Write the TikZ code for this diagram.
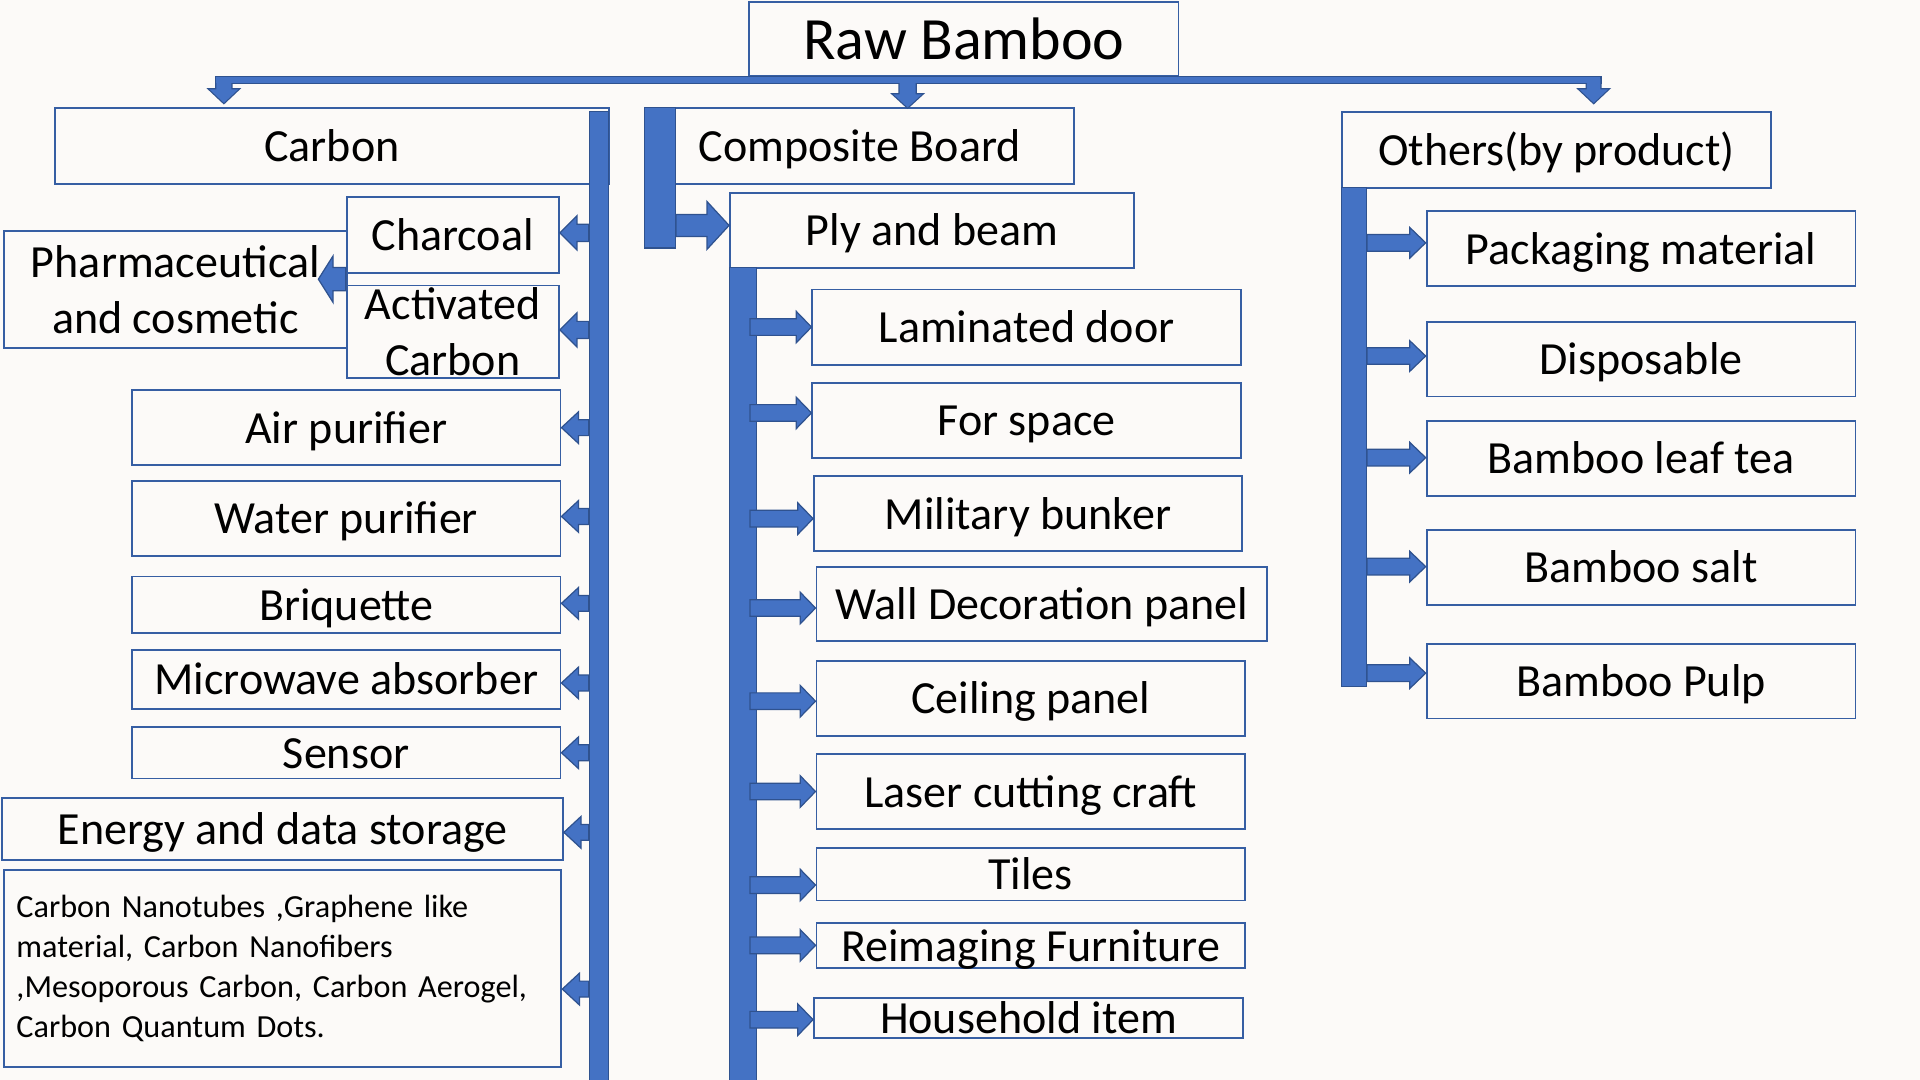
\documentclass[tikz,border=0pt]{standalone}
\usepackage{fontspec}
\setmainfont{Carlito}
\newfontfamily\listfam[WordSpace=0.7]{Carlito}
\usetikzlibrary{calc}
\definecolor{ablue}{HTML}{4472C4}
\definecolor{aline}{HTML}{2F528F}
\definecolor{bline}{HTML}{365EA3}
\definecolor{bgc}{HTML}{FCFAF8}
\newcommand\mainfnt{\fontsize{37.6}{46}\selectfont}
\newcommand\rawfnt{\fontsize{49}{58}\selectfont}
\newcommand\listfnt{\listfam\fontsize{26.3}{32.7}\selectfont}
\tikzset{
 box/.style={draw=bline, line width=1.5pt, inner sep=0pt, font=\mainfnt, text height=28.6pt, text depth=3pt},
 multiline/.style={align=center, text height=, text depth=},
 barst/.style={fill=ablue, draw=aline, line width=1pt, inner sep=0pt, anchor=north west},
 arrowst/.style={fill=ablue, draw=aline, line width=1pt},
 busedge/.style={fill=ablue, draw=aline, line width=2pt},
 busfill/.style={fill=ablue},
}
% box: [opts]{name}{x1}{y1}{x2}{y2}{text}
\newcommand\mkbox[7][]{\node[box,anchor=north west,minimum width={#5-#3},minimum height={#6-#4},#1] (#2) at (#3,#4) {#7};}
% arrows: [style]{start}{end}{shaft half}{head half}{head length}
\newcommand\rarr[6][arrowst]{\path[#1] let \p1=#2, \p2=#3 in
 (\x1,{\y2+#4pt}) -- ({\x2-#6pt},{\y2+#4pt}) -- ({\x2-#6pt},{\y2+#5pt}) -- (\x2,\y2) -- ({\x2-#6pt},{\y2-#5pt}) -- ({\x2-#6pt},{\y2-#4pt}) -- (\x1,{\y2-#4pt}) -- cycle;}
\newcommand\larr[6][arrowst]{\path[#1] let \p1=#2, \p2=#3 in
 (\x1,{\y2+#4pt}) -- ({\x2+#6pt},{\y2+#4pt}) -- ({\x2+#6pt},{\y2+#5pt}) -- (\x2,\y2) -- ({\x2+#6pt},{\y2-#5pt}) -- ({\x2+#6pt},{\y2-#4pt}) -- (\x1,{\y2-#4pt}) -- cycle;}
\newcommand\darr[6][arrowst]{\path[#1] let \p1=#2, \p2=#3 in
 ({\x2-#4pt},\y1) -- ({\x2-#4pt},{\y2+#6pt}) -- ({\x2-#5pt},{\y2+#6pt}) -- (\x2,\y2) -- ({\x2+#5pt},{\y2+#6pt}) -- ({\x2+#4pt},{\y2+#6pt}) -- ({\x2+#4pt},\y1) -- cycle;}
\begin{document}
\begin{tikzpicture}[x=1pt,y=-1pt]
\fill[bgc] (0,0) rectangle (1568,882);
\useasboundingbox (0,0) rectangle (1568,882);

% ---------- boxes ----------
\mkbox[font=\rawfnt, text height=37.2pt, text depth=3.9pt]{raw}{611}{0.8}{961.7}{61.3}{Raw Bamboo}
% carbon column
\mkbox{carbon}{44}{87.7}{496.7}{149.3}{Carbon}
\mkbox{charcoal}{282.3}{160}{455.7}{222}{Charcoal}
\mkbox[multiline]{activated}{282.3}{232.4}{455.7}{308}{Activated\\Carbon}
\mkbox[multiline]{pharm}{2.7}{188}{282.3}{283.4}{Pharmaceutical\\and cosmetic}
\mkbox{air}{107}{318}{457}{379}{Air purifier}
\mkbox{water}{107}{392}{457}{453}{Water purifier}
\mkbox{briq}{107}{470}{457}{516}{Briquette}
\mkbox{micro}{107}{530}{457}{578}{Microwave absorber}
\mkbox{sensor}{107}{593}{457}{635}{Sensor}
\mkbox{energy}{1}{651}{459}{701.6}{Energy and data storage}
\mkbox[text height=, text depth=, font=\listfnt, text width=435pt, align=left, inner xsep=10pt]{list}{2.7}{709.8}{457.7}{870.8}{Carbon Nanotubes ,Graphene like\\material, Carbon Nanofibers\\,Mesoporous Carbon, Carbon Aerogel,\\Carbon Quantum Dots.}
% composite column
\mkbox{composite}{527}{87.7}{876}{149.3}{Composite Board}
\mkbox{ply}{595.4}{156.7}{925.4}{218}{Ply and beam}
\mkbox{lam}{662.7}{235.7}{1012.7}{297}{Laminated door}
\mkbox{space}{662.7}{312}{1012.7}{373}{For space}
\mkbox{mil}{664}{388}{1013.7}{449}{Military bunker}
\mkbox{wall}{666}{462}{1034}{523}{Wall Decoration panel}
\mkbox{ceil}{666}{539}{1016}{600}{Ceiling panel}
\mkbox{laser}{666}{614.7}{1016}{676.6}{Laser cutting craft}
\mkbox{tiles}{666}{691.5}{1016}{734.6}{Tiles}
\mkbox{reimg}{666}{753}{1016}{789.6}{Reimaging Furniture}
\mkbox{house}{664}{814}{1014.3}{847}{Household item}
% others column
\mkbox{others}{1095.3}{91}{1445.3}{152.6}{Others(by product)}
\mkbox{pack}{1164.3}{171.7}{1514.6}{233}{Packaging material}
\mkbox{disp}{1164.3}{262}{1514.6}{323}{Disposable}
\mkbox{tea}{1164.3}{343}{1514.6}{404}{Bamboo leaf tea}
\mkbox{salt}{1164.3}{432}{1514.6}{493}{Bamboo salt}
\mkbox{pulp}{1164.3}{525}{1514.6}{586}{Bamboo Pulp}

% ---------- bars ----------
\node[barst, minimum width=16, minimum height=800] (cbar) at (480.7,90.7) {};
\node[barst, minimum width=25, minimum height=115] (mbarA) at (526,87) {};
\node[barst, minimum width=21.6, minimum height=670] (mbarB) at (595.4,218) {};
\node[barst, minimum width=20, minimum height=407.4] (rbar) at (1095.3,152.6) {};

% ---------- top connector ----------
\coordinate (busL) at (182.85,64.5);
\coordinate (busM) at (741.2,64.5);
\coordinate (busR) at (1301.5,64.5);
\coordinate (tipL) at ($(busL |- carbon.north)+(0,-3.7)$);
\coordinate (tipR) at ($(busR |- others.north)+(0,-7)$);
\path[busedge] ($(raw.south -| busL)+(-6.15,0)$) rectangle ($(busR)+(5.5,3.1)$);
\darr[busedge]{(busL)}{(tipL)}{6.15}{11.7}{11}
\darr[busedge]{(busR)}{(tipR)}{5.5}{11.7}{11}
\darr[busedge]{(busM)}{(busM |- composite.north)}{6.5}{11.7}{10.7}
\path[busfill] ($(raw.south -| busL)+(-6.15,0)$) rectangle ($(busR)+(5.5,3.1)$);
\darr[busfill]{(busL)}{(tipL)}{6.15}{11.7}{11}
\darr[busfill]{(busR)}{(tipR)}{5.5}{11.7}{11}
\darr[busfill]{(busM)}{(busM |- composite.north)}{6.5}{11.7}{10.7}

% ---------- carbon column arrows ----------
\larr{(cbar.west)}{([yshift=1.6pt]charcoal.east)}{7}{14}{14}
\larr{(cbar.west)}{([yshift=1.5pt]activated.east)}{7}{14}{14}
\larr{(cbar.west)}{(air.east)}{6.5}{13}{14}
\larr{(cbar.west)}{([yshift=1.5pt]water.east)}{6.5}{13}{14}
\larr{(cbar.west)}{([yshift=1pt]briq.east)}{6.5}{13}{14}
\larr{(cbar.west)}{([yshift=-3pt]micro.east)}{6.5}{13}{14}
\larr{(cbar.west)}{(sensor.east)}{6.5}{13}{14}
\larr{(cbar.west)}{([yshift=-2.7pt]energy.east)}{6.5}{13}{14}
\larr{(cbar.west)}{([yshift=-16.7pt]list.east)}{6.5}{13}{14}
\coordinate (pharmtip) at (260,228);
\larr{(charcoal.south west)}{(pharmtip)}{9.5}{19}{12}

% ---------- composite column arrows ----------
\rarr{(mbarA.east)}{([yshift=4pt]ply.west)}{9}{19.5}{18}
\rarr{([xshift=-5.5pt]mbarB.east)}{(lam.west)}{6.8}{12.9}{12.5}
\rarr{([xshift=-5.5pt]mbarB.east)}{([yshift=6pt]space.west)}{6.8}{12.9}{12.5}
\rarr{([xshift=-5.5pt]mbarB.east)}{([yshift=-4.3pt]mil.west)}{6.8}{12.9}{12.5}
\rarr{([xshift=-5.5pt]mbarB.east)}{([yshift=-3.3pt]wall.west)}{6.8}{12.9}{12.5}
\rarr{([xshift=-5.5pt]mbarB.east)}{([yshift=-2.4pt]ceil.west)}{6.8}{12.9}{12.5}
\rarr{([xshift=-5.5pt]mbarB.east)}{(laser.west)}{6.8}{12.9}{12.5}
\rarr{([xshift=-5.5pt]mbarB.east)}{([yshift=-9pt]tiles.west)}{6.8}{12.9}{12.5}
\rarr{([xshift=-5.5pt]mbarB.east)}{(reimg.west)}{6.8}{12.9}{12.5}
\rarr{([xshift=-5.5pt]mbarB.east)}{([yshift=-1.5pt]house.west)}{6.8}{12.9}{12.5}

% ---------- others column arrows ----------
\rarr{(rbar.east)}{([yshift=4.8pt]pack.west)}{6.8}{12.5}{13}
\rarr{(rbar.east)}{([yshift=2.5pt]disp.west)}{6.8}{12.5}{13}
\rarr{(rbar.east)}{([yshift=0.5pt]tea.west)}{6.8}{12.5}{13}
\rarr{(rbar.east)}{([yshift=0.5pt]salt.west)}{6.8}{12.5}{13}
\rarr{(rbar.east)}{([yshift=6.5pt]pulp.west)}{6.8}{12.5}{13}
\end{tikzpicture}
\end{document}
